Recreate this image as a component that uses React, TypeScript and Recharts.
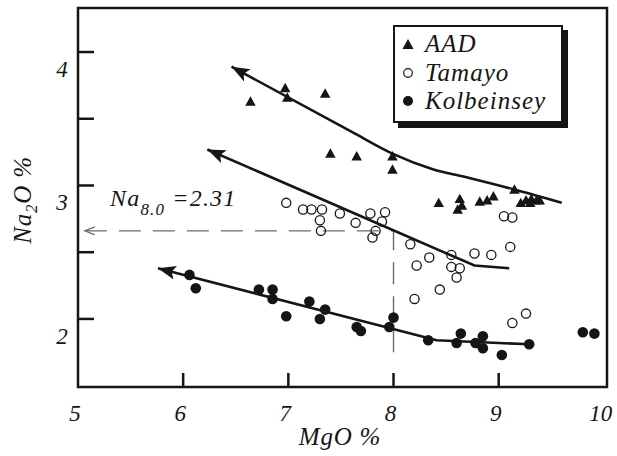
import React from 'react';
import { ComposedChart, XAxis, YAxis, Scatter, Line, ReferenceArea, Legend } from 'recharts';

// ---------- data ----------
const aadMgO = [6.64, 6.97, 6.99, 7.35, 7.40, 7.65, 7.99, 7.99, 8.43, 8.63, 8.65, 8.61, 8.82, 8.89, 8.95, 9.15, 9.21, 9.26, 9.31, 9.36, 9.39, 9.30];
const aadNa2O = [3.63, 3.73, 3.66, 3.69, 3.24, 3.22, 3.22, 3.12, 2.87, 2.90, 2.85, 2.82, 2.88, 2.89, 2.92, 2.97, 2.87, 2.89, 2.90, 2.89, 2.89, 2.87];

const tamayoMgO = [6.98, 7.14, 7.22, 7.32, 7.30, 7.31, 7.49, 7.64, 7.78, 7.92, 7.89, 7.83, 7.80, 8.16, 8.22, 9.05, 9.13, 8.34, 8.55, 8.55, 8.63, 8.60, 8.77, 8.93, 9.11, 8.44, 8.20, 9.26, 9.13];
const tamayoNa2O = [2.87, 2.82, 2.82, 2.82, 2.74, 2.66, 2.79, 2.72, 2.79, 2.80, 2.73, 2.66, 2.61, 2.56, 2.40, 2.77, 2.76, 2.46, 2.48, 2.39, 2.38, 2.31, 2.49, 2.48, 2.54, 2.22, 2.15, 2.04, 1.97];

const kolMgO = [6.06, 6.12, 6.72, 6.85, 6.85, 6.98, 7.20, 7.35, 7.30, 7.65, 7.69, 7.96, 8.00, 8.33, 8.64, 8.60, 8.78, 8.85, 8.85, 9.03, 9.29, 9.80, 9.91];
const kolNa2O = [2.33, 2.23, 2.22, 2.22, 2.15, 2.02, 2.13, 2.07, 2.00, 1.94, 1.91, 1.94, 2.01, 1.84, 1.89, 1.82, 1.82, 1.87, 1.78, 1.73, 1.81, 1.90, 1.89];

// fitted trend lines (arrow at the low-MgO end)
const aadFitMgO = [6.46, 7.63, 8.0, 8.38, 8.73, 9.15, 9.6];
const aadFitNa2O = [3.89, 3.39, 3.235, 3.12, 3.055, 2.97, 2.87];
const tamayoFitMgO = [6.23, 8.77, 9.1];
const tamayoFitNa2O = [3.27, 2.4, 2.38];
const kolFitMgO = [5.76, 8.41, 9.29];
const kolFitNa2O = [2.38, 1.84, 1.81];

// Na8.0 projection (dashed guide)
const guideMgO = [5.065, 8.0, 8.0];
const guideNa2O = [2.66, 2.66, 1.69];

const xTicks = [5, 6, 7, 8, 9, 10];
const yTicks = [2, 2.5, 3, 3.5, 4];
const xDomain = [5, 10.03];
const yDomain = [1.49, 4.33];

const legendNames = ['AAD', 'Tamayo', 'Kolbeinsey'];
const legendShapes = ['triangle', 'open', 'filled'];

const zip = (xs: number[], ys: number[]) => xs.map((x, i) => ({ x, y: ys[i] }));
const aadData = zip(aadMgO, aadNa2O);
const tamayoData = zip(tamayoMgO, tamayoNa2O);
const kolData = zip(kolMgO, kolNa2O);
const aadFit = zip(aadFitMgO, aadFitNa2O);
const tamayoFit = zip(tamayoFitMgO, tamayoFitNa2O);
const kolFit = zip(kolFitMgO, kolFitNa2O);
const guide = zip(guideMgO, guideNa2O);

// ---------- layout ----------
const W = 617;
const H = 456;
const AXIS_X_H = 1;
const AXIS_Y_W = 1;
const PLOT_LEFT = 78;
const PLOT_BOTTOM = 387;
const MARGIN = { top: 8, right: 10, bottom: H - PLOT_BOTTOM - AXIS_X_H, left: PLOT_LEFT - AXIS_Y_W };
const INK = '#151515';
const FONT = '"Liberation Serif", "DejaVu Serif", serif';

const renderXTick = (props: any) => {
  const { x, payload } = props;
  const v = payload.value;
  const inner = v > 5 && v < 10;
  return (
    <g key={`xt-${v}`}>
      {inner && <line x1={x} x2={x} y1={PLOT_BOTTOM} y2={PLOT_BOTTOM - 14} stroke={INK} strokeWidth={2.5} />}
      <text x={x - 3} y={PLOT_BOTTOM + 34} textAnchor="middle" fontFamily={FONT} fontStyle="italic" fontSize={23} fill={INK}>
        {v}
      </text>
    </g>
  );
};

const renderYTick = (props: any) => {
  const { y, payload } = props;
  const v = payload.value;
  return (
    <g key={`yt-${v}`}>
      <line x1={PLOT_LEFT} x2={PLOT_LEFT + 16} y1={y} y2={y} stroke={INK} strokeWidth={2.5} />
      {Number.isInteger(v) && (
        <text x={62} y={y + 25} textAnchor="middle" fontFamily={FONT} fontStyle="italic" fontSize={23} fill={INK}>
          {v}
        </text>
      )}
    </g>
  );
};

const Tri = (props: any) => {
  const { cx, cy } = props;
  const s = 10.5;
  const h = s * 0.9;
  return <path d={`M${cx},${cy - h * 0.55} L${cx + s / 2},${cy + h * 0.45} L${cx - s / 2},${cy + h * 0.45} Z`} fill={INK} />;
};
const OpenDot = (props: any) => <circle cx={props.cx} cy={props.cy} r={4.6} fill="none" stroke={INK} strokeWidth={1.3} />;
const FilledDot = (props: any) => <circle cx={props.cx} cy={props.cy} r={5.3} fill={INK} />;

const LegendMarker = ({ kind }: { kind: string }) => (
  <svg width={14} height={14} style={{ display: 'block' }}>
    {kind === 'triangle' && <path d="M7,2 L12.5,12 L1.5,12 Z" fill={INK} />}
    {kind === 'open' && <circle cx={7} cy={7} r={4.3} fill="none" stroke={INK} strokeWidth={1.2} />}
    {kind === 'filled' && <circle cx={7} cy={7} r={5} fill={INK} />}
  </svg>
);

const renderLegend = () => (
  <div
    style={{
      boxSizing: 'border-box',
      width: 170,
      height: 98,
      border: `2px solid ${INK}`,
      background: '#fff',
      boxShadow: `5px 5px 0 ${INK}`,
      padding: '3px 0 0 6px',
    }}
  >
    {legendNames.map((name, i) => (
      <div key={name} style={{ display: 'flex', alignItems: 'center', height: 28.5 }}>
        <LegendMarker kind={legendShapes[i]} />
        <span
          style={{
            marginLeft: 10,
            fontFamily: FONT,
            fontStyle: 'italic',
            fontSize: 25,
            letterSpacing: 1,
            lineHeight: '28px',
            color: INK,
          }}
        >
          {name}
        </span>
      </div>
    ))}
  </div>
);

export default function App() {
  return (
    <div style={{ position: 'absolute', left: 0, top: 0, width: W, height: H, background: '#fff' }}>
      <ComposedChart width={W} height={H} margin={MARGIN}>
        <defs>
          <marker id="fitArrow" markerUnits="userSpaceOnUse" markerWidth={20} markerHeight={16} refX={18} refY={7} orient="auto-start-reverse" viewBox="0 0 20 16">
            <path d="M0,0 L18,7 L0,14 L4,7 Z" fill={INK} />
          </marker>
          <marker id="openArrow" markerUnits="userSpaceOnUse" markerWidth={12} markerHeight={10} refX={10} refY={4} orient="auto-start-reverse" viewBox="0 0 12 10">
            <path d="M0,0 L10,4 L0,8" fill="none" stroke="#6a6a6a" strokeWidth={1.3} />
          </marker>
        </defs>
        <XAxis
          type="number"
          dataKey="x"
          domain={xDomain}
          ticks={xTicks}
          interval={0}
          allowDataOverflow
          axisLine={false}
          tickLine={false}
          height={AXIS_X_H}
          tick={renderXTick}
        />
        <YAxis
          type="number"
          dataKey="y"
          domain={yDomain}
          ticks={yTicks}
          interval={0}
          allowDataOverflow
          axisLine={false}
          tickLine={false}
          width={AXIS_Y_W}
          tick={renderYTick}
        />
        <ReferenceArea x1={xDomain[0]} x2={xDomain[1]} y1={yDomain[0]} y2={yDomain[1]} fill="none" fillOpacity={0} stroke={INK} strokeWidth={2.5} strokeOpacity={1} />
        <Line
          data={guide}
          dataKey="y"
          type="linear"
          stroke="#6a6a6a"
          strokeWidth={1.4}
          strokeDasharray="22 12"
          dot={false}
          activeDot={false}
          isAnimationActive={false}
          markerStart="url(#openArrow)"
          legendType="none"
        />
        <Line data={aadFit} dataKey="y" type="monotone" stroke={INK} strokeWidth={2.6} dot={false} activeDot={false} isAnimationActive={false} markerStart="url(#fitArrow)" legendType="none" />
        <Line data={tamayoFit} dataKey="y" type="linear" stroke={INK} strokeWidth={2.6} dot={false} activeDot={false} isAnimationActive={false} markerStart="url(#fitArrow)" legendType="none" />
        <Line data={kolFit} dataKey="y" type="linear" stroke={INK} strokeWidth={2.6} dot={false} activeDot={false} isAnimationActive={false} markerStart="url(#fitArrow)" legendType="none" />
        <Scatter name="AAD" data={aadData} dataKey="y" shape={<Tri />} isAnimationActive={false} />
        <Scatter name="Tamayo" data={tamayoData} dataKey="y" shape={<OpenDot />} isAnimationActive={false} />
        <Scatter name="Kolbeinsey" data={kolData} dataKey="y" shape={<FilledDot />} isAnimationActive={false} />
        <Legend layout="vertical" align="center" verticalAlign="middle" wrapperStyle={{ left: 393, top: 25, width: 170, height: 98 }} content={renderLegend} />
        <text x={110} y={206} fontFamily={FONT} fontStyle="italic" fontSize={24} letterSpacing={1.2} fill={INK}>
          Na
          <tspan dy={9} fontSize={17}>8.0</tspan>
          <tspan dy={-9} dx={7}>=2.31</tspan>
        </text>
        <text x={340} y={445} textAnchor="middle" fontFamily={FONT} fontStyle="italic" fontSize={25} letterSpacing={0.8} fill={INK}>
          MgO %
        </text>
        <text x={31} y={200} transform="rotate(-90, 31, 200)" textAnchor="middle" fontFamily={FONT} fontStyle="italic" fontSize={25} letterSpacing={0.8} fill={INK}>
          Na
          <tspan dy={6} fontSize={17}>2</tspan>
          <tspan dy={-6}>O %</tspan>
        </text>
      </ComposedChart>
    </div>
  );
}
